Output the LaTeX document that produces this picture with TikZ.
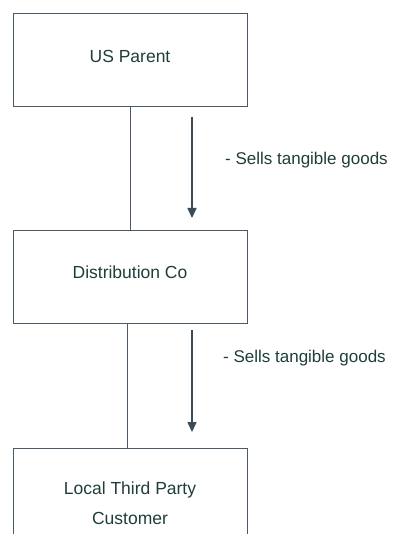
\documentclass[tikz,border=0pt]{standalone}
\usepackage{fontspec}
\setmainfont{Liberation Sans}
\usetikzlibrary{arrows.meta}
\definecolor{inkline}{HTML}{4A5A66}
\definecolor{inkflow}{HTML}{3C4A55}
\definecolor{inktext}{HTML}{1F3D3A}
\begin{document}
\begin{tikzpicture}[x=1pt,y=-1pt,
  entity/.style={draw=inkline, line width=1pt, minimum width=234pt,
    minimum height=93pt, inner sep=0pt, text=inktext, align=center,
    font=\fontsize{17.5}{30}\selectfont, text depth=9pt},
  link/.style={draw=inkline, line width=1pt},
  flow/.style={draw=inkflow, line width=1.6pt,
    -{Triangle[length=10pt,width=9pt]}},
  note/.style={text=inktext, font=\fontsize{17}{20}\selectfont,
    anchor=base west, inner sep=0pt}]
\useasboundingbox (0,0) rectangle (402,534);
\clip (0,0) rectangle (402,534);

% the three parties
\node[entity] (parent) at (130,60.5) {US Parent};
\node[entity] (dist) at (130,276.5) {Distribution Co};
\node[entity, minimum height=119pt] (cust) at (130,507.5) {Local Third Party\\Customer};

% ownership / relationship lines
\draw[link] (parent.south) -- (dist.north);
\draw[link] ([xshift=-3pt]dist.south) -- ([xshift=-3pt]cust.north);

% flow of goods
\coordinate (f1s) at (192,117);
\coordinate (f1e) at (192,218);
\coordinate (f2s) at (192,330);
\coordinate (f2e) at (192,432);
\draw[flow] (f1s) -- (f1e);
\draw[flow] (f2s) -- (f2e);

\node[note] (sale1) at (225,165) {- Sells tangible goods};
\node[note] (sale2) at (223,362) {- Sells tangible goods};
\end{tikzpicture}
\end{document}
